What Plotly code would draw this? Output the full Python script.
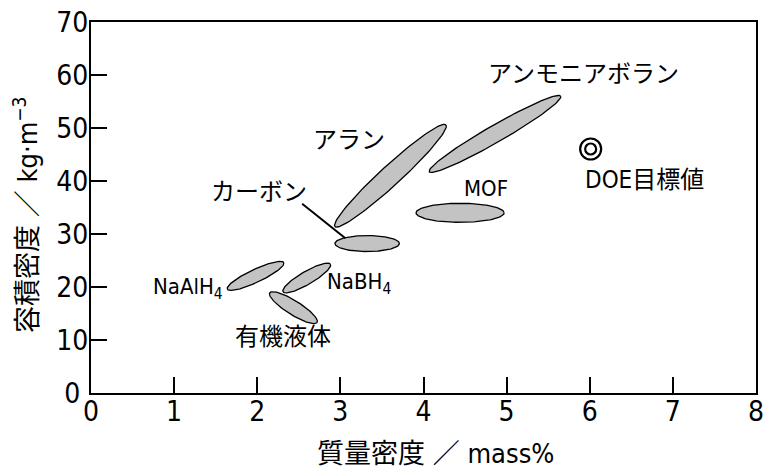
import numpy as np
import plotly.graph_objects as go

# ---------------- data ----------------
materials = ["NaAlH4", "NaBH4", "有機液体", "カーボン", "アラン", "アンモニアボラン", "MOF"]
# major-axis tips of each region (mass%, kg/m3)
tip1_x = [1.64, 2.31, 2.15, 2.935, 2.935, 4.07, 3.91]
tip1_y = [19.6, 19.1, 18.9, 28.2, 31.4, 41.75, 34.0]
tip2_x = [2.32, 2.88, 2.72, 3.71, 4.27, 5.65, 4.97]
tip2_y = [24.6, 24.3, 13.3, 28.2, 50.6, 56.0, 34.0]
minor_px = [13, 13, 14, 16, 20, 17, 19]   # drawn thickness (style)

label_text = ["NaAlH<sub>4</sub>", "NaBH<sub>4</sub>", "有機液体", "カーボン", "アラン",
              "アンモニアボラン", "MOF"]
label_x = [1.612, 2.815, 2.313, 2.021, 3.104, 5.919, 4.752]
label_y = [19.8, 20.75, 10.6, 37.98, 47.74, 60.19, 38.5]
label_anchor = ["right", "left", "center", "center", "center", "center", "center"]
label_size = [22, 22, 24, 24, 24, 24, 22]

carbon_leader_x = [2.54, 3.06]
carbon_leader_y = [35.7, 29.2]

doe_x = [6.011]
doe_y = [46.04]
doe_label = "DOE目標値"
doe_label_x = 5.919
doe_label_y = 40.2

x_range = [0, 8]
y_range = [0, 70]
x_ticks = [0, 1, 2, 3, 4, 5, 6, 7, 8]
x_tick_text = ["0", "1", "2", "3", "4", "5", "6", "7", "8"]
y_ticks = [0, 10, 20, 30, 40, 50, 60, 70]
y_tick_text = ["0\u00a0", "10", "20", "30", "40", "50", "60", "70"]
x_title = "質量密度 ／ mass%"
y_title = "容積密度 ／ kg·m<sup>−3</sup>"

# ---------------- layout constants ----------------
W, H = 764, 470
ML, MR, MT, MB = 91, 8, 22, 77
PW, PH = W - ML - MR, H - MT - MB
kx = PW / (x_range[1] - x_range[0])
ky = PH / (y_range[1] - y_range[0])

LAT = "Liberation Sans Narrow, DejaVu Sans Condensed, Noto Sans CJK JP, sans-serif"
FILL = "#c3c3c3"

fig = go.Figure()

t = np.linspace(0, 2 * np.pi, 121)
for i, name in enumerate(materials):
    p1 = np.array([tip1_x[i] * kx, tip1_y[i] * ky])
    p2 = np.array([tip2_x[i] * kx, tip2_y[i] * ky])
    c = (p1 + p2) / 2
    d = p2 - p1
    a = np.linalg.norm(d) / 2
    u = d / np.linalg.norm(d)
    v = np.array([-u[1], u[0]])
    b = minor_px[i] / 2
    px = c[0] + a * np.cos(t) * u[0] + b * np.sin(t) * v[0]
    py = c[1] + a * np.cos(t) * u[1] + b * np.sin(t) * v[1]
    fig.add_trace(go.Scatter(x=px / kx, y=py / ky, mode="lines", fill="toself",
                             fillcolor=FILL, line=dict(color="black", width=1.3),
                             hoverinfo="skip", showlegend=False))

fig.add_trace(go.Scatter(x=carbon_leader_x, y=carbon_leader_y, mode="lines",
                         line=dict(color="black", width=2), showlegend=False,
                         hoverinfo="skip"))

fig.add_trace(go.Scatter(x=doe_x, y=doe_y, mode="markers",
                         marker=dict(symbol="circle-open", size=21, color="black",
                                     line=dict(width=2.2)), showlegend=False))
fig.add_trace(go.Scatter(x=doe_x, y=doe_y, mode="markers",
                         marker=dict(symbol="circle-open", size=11, color="black",
                                     line=dict(width=2.2)), showlegend=False))

for i in range(len(materials)):
    fig.add_annotation(x=label_x[i], y=label_y[i], xref="x", yref="y",
                       text=label_text[i], showarrow=False, xanchor=label_anchor[i],
                       yanchor="middle",
                       font=dict(family=LAT, size=label_size[i], color="black"))
fig.add_annotation(x=doe_label_x, y=doe_label_y, xref="x", yref="y", text=doe_label,
                   showarrow=False, xanchor="left", yanchor="middle",
                   font=dict(family=LAT, size=24, color="black"))

fig.add_annotation(x=(435 - ML) / PW, y=(MT + PH - 453) / PH, xref="paper", yref="paper",
                   text=x_title, showarrow=False, xanchor="center", yanchor="middle",
                   font=dict(family=LAT, size=27, color="black"))
fig.add_annotation(x=(25 - ML) / PW, y=(MT + PH - 215) / PH, xref="paper", yref="paper",
                   text=y_title, showarrow=False, textangle=-90, xanchor="center",
                   yanchor="middle", font=dict(family=LAT, size=27, color="black"))

axis_common = dict(showline=True, linecolor="black", linewidth=2, mirror=True,
                   ticks="inside", ticklen=16, tickwidth=2, tickcolor="black",
                   showgrid=False, zeroline=False, automargin=False,
                   ticklabeloverflow="allow",
                   tickfont=dict(family=LAT, size=28, color="black"))
fig.update_xaxes(range=x_range, tickvals=x_ticks, ticktext=x_tick_text,
                 ticklabelstandoff=-8, **axis_common)
fig.update_yaxes(range=y_range, tickvals=y_ticks, ticktext=y_tick_text,
                 ticklabelstandoff=-5, **axis_common)

fig.update_layout(width=W, height=H, margin=dict(l=ML, r=MR, t=MT, b=MB, autoexpand=False),
                  plot_bgcolor="white", paper_bgcolor="white", showlegend=False)

fig.write_html("out.html", config={"displayModeBar": False},
               post_script="document.body.style.margin='0px';")
